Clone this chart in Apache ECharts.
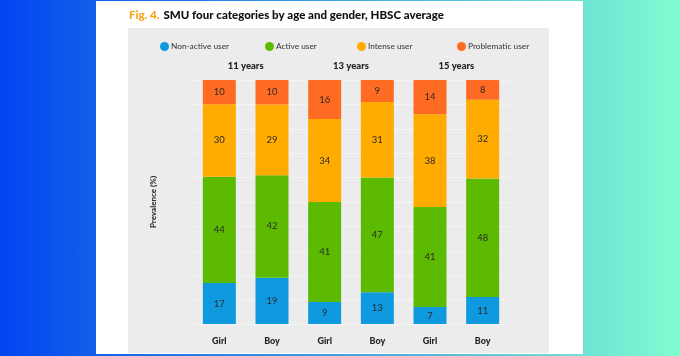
<!DOCTYPE html>
<html><head><meta charset="utf-8">
<script src="https://cdn.jsdelivr.net/npm/echarts@6/dist/echarts.min.js"></script>
<style>
html,body{margin:0;padding:0;width:680px;height:356px;overflow:hidden;
background:linear-gradient(90deg,#0244f2 0%,#1260ea 14%,#6ee3d4 86%,#80fcd0 100%);}
#c{width:680px;height:356px;}
</style></head><body><div id="c"></div>
<script>
const groups = ['11 years', '13 years', '15 years'];
const categories = ['Girl', 'Boy', 'Girl', 'Boy', 'Girl', 'Boy'];
const nonActive = [17, 19, 9, 13, 7, 11];
const active = [44, 42, 41, 47, 41, 48];
const intense = [30, 29, 34, 31, 38, 32];
const problematic = [10, 10, 16, 9, 14, 8];
const seriesNames = ['Non-active user', 'Active user', 'Intense user', 'Problematic user'];
const colors = ['#0f9ae0', '#5cbb00', '#ffab00', '#ff6b22'];

const raw = [nonActive, active, intense, problematic];
const totals = categories.map((_, i) => raw.reduce((s, a) => s + a[i], 0));

const chart = echarts.init(document.getElementById('c'));
const FONT = 'Lato';
const legendX = [155, 260, 352, 452];

const series = raw.map((arr, k) => ({
  name: seriesNames[k],
  type: 'bar',
  stack: 'total',
  barWidth: 33,
  itemStyle: { color: colors[k] },
  data: arr.map((v, i) => ({ value: v / totals[i] * 100, raw: v })),
  label: {
    show: true, position: 'inside', color: '#2a2a2a', fontSize: 9.5, fontFamily: FONT,
    formatter: p => p.data.raw
  },
  emphasis: { disabled: true }
}));

chart.setOption({
  animation: false,
  textStyle: { fontFamily: FONT },
  graphic: [
    { type: 'rect', shape: { x: 96, y: 1, width: 487, height: 353 }, style: { fill: '#ffffff' }, z: -10 },
    { type: 'rect', shape: { x: 128, y: 28, width: 421, height: 325 }, style: { fill: '#ececec' }, z: -9 }
  ],
  title: {
    left: 124, top: 4,
    text: '{a|Fig. 4.}{b|SMU four categories by age and gender, HBSC average}',
    textStyle: {
      rich: {
        a: { color: '#f5a51a', fontWeight: 900, fontSize: 11.5, fontFamily: FONT, padding: [0, 4, 0, 0] },
        b: { color: '#111111', fontWeight: 900, fontSize: 11.5, fontFamily: FONT }
      }
    }
  },
  legend: seriesNames.map((n, k) => ({
    data: [n], left: legendX[k], top: 37, icon: 'circle', itemWidth: 9, itemHeight: 9, itemGap: 2,
    selectedMode: false,
    textStyle: { fontSize: 8.3, color: '#333', fontFamily: FONT, padding: [0, 0, 0, -3] }
  })),
  grid: { left: 193, right: 171, top: 80, bottom: 32 },
  xAxis: [
    {
      type: 'category', data: categories, position: 'bottom',
      axisLine: { show: false }, axisTick: { show: false },
      axisLabel: { fontSize: 9, fontWeight: 900, color: '#222', margin: 13, fontFamily: FONT }
    },
    {
      type: 'category', data: groups, position: 'top',
      axisLine: { show: false }, axisTick: { show: false },
      axisLabel: { fontSize: 9.5, fontWeight: 900, color: '#222', margin: 9, fontFamily: FONT }
    }
  ],
  yAxis: {
    type: 'value', min: 0, max: 100, interval: 10,
    name: 'Prevalence (%)', nameLocation: 'middle', nameGap: 36, nameRotate: 90,
    nameTextStyle: { fontSize: 8, fontWeight: 900, color: '#333', fontFamily: FONT },
    axisLabel: { show: false }, axisLine: { show: false }, axisTick: { show: false },
    splitLine: { lineStyle: { color: '#f5f5f5', width: 1 } }
  },
  series: series
});
</script></body></html>
